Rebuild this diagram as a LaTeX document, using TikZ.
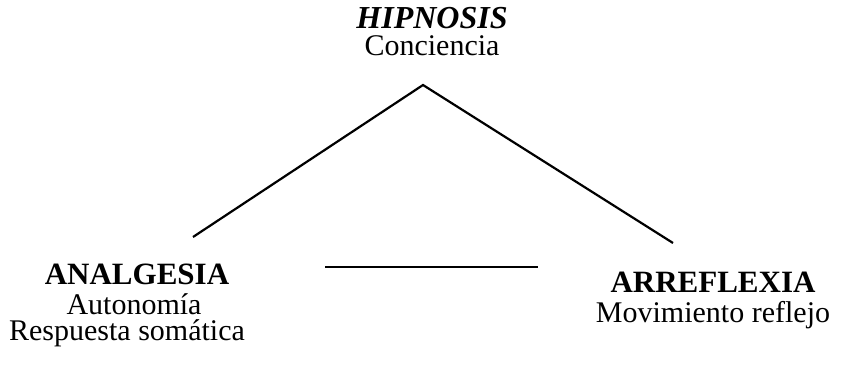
\documentclass[tikz,border=0pt]{standalone}
\usepackage{fontspec}
\setmainfont{Liberation Serif}
\begin{document}
\begin{tikzpicture}[x=1pt,y=-1pt,
  titre/.style={anchor=base,inner sep=0pt,font=\fontsize{31}{31}\selectfont\bfseries},
  texte/.style={anchor=base,inner sep=0pt,font=\fontsize{30}{30}\selectfont},
  trait/.style={line width=2.2pt}]

\useasboundingbox (0,0) rectangle (845,364);

% Sommet
\node[titre,font=\fontsize{32}{32}\selectfont\bfseries\itshape] (hip) at (432,28) {HIPNOSIS};
\node[texte] (conc) at (432,55) {Conciencia};

% Gauche
\node[titre] (anal) at (137,284) {ANALGESIA};
\node[texte] (auto) at (134,314) {Autonomía};
\node[texte] (resp) at (127,340) {Respuesta somática};

% Droite
\node[titre] (arre) at (713,292) {ARREFLEXIA};
\node[texte] (movi) at (713,322) {Movimiento reflejo};

% Triangle
\coordinate (apex) at (423,85);
\coordinate (gauche) at (193,237);
\coordinate (droite) at (673,243);
\coordinate (basg) at (325,267);
\coordinate (basd) at (538,267);

\draw[trait] (gauche) -- (apex) -- (droite);
\draw[trait] (basg) -- (basd);

\end{tikzpicture}
\end{document}
